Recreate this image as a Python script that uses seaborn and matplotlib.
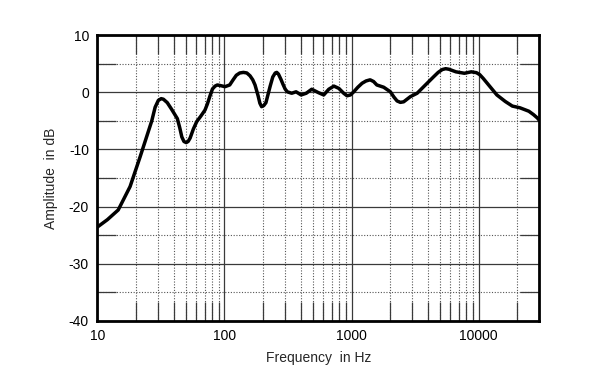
import numpy as np
import pandas as pd
import matplotlib
matplotlib.use('Agg')
import matplotlib.pyplot as plt
from matplotlib.ticker import FixedLocator, NullFormatter
import seaborn as sns

sns.set_style('white')
plt.rcParams['font.family'] = ['Liberation Sans', 'DejaVu Sans']
plt.rcParams['axes.unicode_minus'] = False

# frequency response
freq = [10, 12, 14.6, 18.1, 21.7, 24, 26.8, 28.5, 30.2, 31.8, 33.1, 35.5, 38.5,
        42.6, 44.5, 46.2, 48, 50, 51.8, 53.7, 57, 60.6, 65, 70.3, 73.5, 77,
        80.5, 84.4, 88, 92.5, 101, 110, 117, 124, 132, 141, 150, 159, 167, 174,
        184, 190, 196, 204, 212, 220, 229, 240, 251, 258, 266, 278, 289, 300,
        312, 338, 366, 401, 440, 486, 549, 604, 662, 726, 794, 867, 921, 980,
        1040, 1120, 1210, 1300, 1400, 1490, 1580, 1790, 2020, 2150, 2280, 2420,
        2570, 2900, 3280, 3810, 4430, 4800, 5170, 5500, 5840, 6620, 7720, 8750,
        9600, 10200, 10850, 12280, 13900, 16200, 18400, 21100, 24800, 27000,
        29000, 30000]
amp = [-23.6, -22.3, -20.6, -16.5, -11.3, -8.3, -5.0, -2.6, -1.4, -1.1, -1.2,
       -1.8, -3.0, -4.6, -6.2, -7.8, -8.6, -8.8, -8.6, -8.0, -6.4, -5.1, -4.2,
       -3.1, -2.0, -0.6, 0.6, 1.1, 1.3, 1.2, 1.0, 1.3, 2.2, 3.0, 3.4, 3.5, 3.4,
       2.9, 2.2, 1.3, -0.6, -1.9, -2.5, -2.3, -1.8, -0.4, 1.1, 2.7, 3.4, 3.5,
       3.2, 2.3, 1.4, 0.6, 0.1, -0.15, 0.1, -0.45, -0.15, 0.55, -0.05, -0.45,
       0.55, 1.1, 0.7, -0.15, -0.6, -0.45, 0.1, 0.9, 1.6, 2.0, 2.2, 1.9, 1.3,
       0.9, 0.1, -0.8, -1.5, -1.75, -1.65, -0.75, -0.15, 1.3, 2.75, 3.5, 4.0,
       4.15, 4.05, 3.6, 3.35, 3.6, 3.45, 3.1, 2.45, 1.0, -0.45, -1.6, -2.4,
       -2.7, -3.3, -3.9, -4.5, -4.9]

x_ticks = [10, 100, 1000, 10000]
x_labels = ['10', '100', '1000', '10000']
y_ticks = [10, 0, -10, -20, -30, -40]

df = pd.DataFrame({'freq': freq, 'amp': amp})

fig, ax = plt.subplots(figsize=(6.06, 3.87), dpi=100)
fig.subplots_adjust(left=0.1606, right=0.890, top=0.9088, bottom=0.1713)

sns.lineplot(data=df, x='freq', y='amp', ax=ax, color='black', linewidth=2.5,
             sort=False, estimator=None)
ax.lines[0].set_solid_joinstyle('round')
ax.lines[0].set_solid_capstyle('round')

ax.set_xscale('log')
ax.set_xlim(10, 30000)
ax.set_ylim(-40, 10)

minor_x = [m * 10 ** d for d in range(1, 5) for m in range(2, 10) if m * 10 ** d < 30000]
ax.xaxis.set_major_locator(FixedLocator(x_ticks))
ax.set_xticklabels(x_labels)
ax.xaxis.set_minor_locator(FixedLocator(minor_x))
ax.xaxis.set_minor_formatter(NullFormatter())
ax.yaxis.set_major_locator(FixedLocator(y_ticks))
ax.yaxis.set_minor_locator(FixedLocator([5, -5, -15, -25, -35]))

ax.grid(which='major', color='#3a3a3a', linewidth=0.9, linestyle='-')
ax.grid(which='minor', color='#555555', linewidth=0.8, linestyle=(0, (1, 1.5)))
ax.set_axisbelow(True)

ax.tick_params(which='major', length=0, labelsize=10, pad=6, colors='black')
ax.tick_params(which='minor', direction='in', length=14, width=0.9,
               top=True, right=True, bottom=True, left=True, color='#3a3a3a')

for s in ax.spines.values():
    s.set_linewidth(2)
    s.set_color('black')

ax.set_xlabel('Frequency  in Hz', fontsize=10, labelpad=6)
ax.set_ylabel('Amplitude  in dB', fontsize=10, labelpad=8)

fig.savefig('out.png', dpi=100)
